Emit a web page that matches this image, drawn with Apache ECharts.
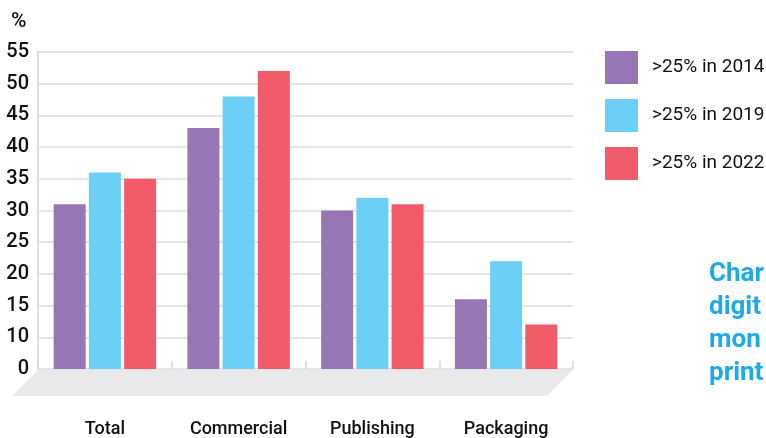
<!DOCTYPE html>
<html>
<head>
<meta charset="utf-8">
<style>
  html, body { margin: 0; padding: 0; background: #ffffff; }
  #chart { width: 766px; height: 438px; }
</style>
<script src="https://cdn.jsdelivr.net/npm/echarts@6/dist/echarts.min.js"></script>
</head>
<body>
<div id="chart"></div>
<script>
// Share of companies with more than 25% of output, by segment
const categories = ['Total', 'Commercial', 'Publishing', 'Packaging'];
const seriesNames = ['>25% in 2014', '>25% in 2019', '>25% in 2022'];
const values2014 = [31, 43, 30, 16];
const values2019 = [36, 48, 32, 22];
const values2022 = [35, 52, 31, 12];
const colors = ['#9676b4', '#6ccff5', '#f15b67'];

// The value axis starts at 5; its lowest tick is printed as "0"
const axisMin = 5;
const axisMax = 55;
const axisStep = 5;
const unitLabel = '%';
const sideNote = ['Char', 'digit', 'mon', 'print'];

const FONT = 'Roboto, "Noto Sans", sans-serif';
const W = 766, H = 438;
const GRID = { left: 38, right: 193, top: 52, bottom: 68 };

const chart = echarts.init(document.getElementById('chart'), null, { renderer: 'canvas' });

// Grey floor slab under the plot, slanting to the lower left
const x0 = GRID.left, x1 = W - GRID.right, yb = H - GRID.bottom, depth = 26;
const floor = {
  type: 'polygon',
  z: 0,
  silent: true,
  shape: { points: [[x0, yb], [x1, yb], [x1 - depth, yb + depth], [x0 - depth, yb + depth]] },
  style: { fill: '#e9e9eb' }
};

const unitText = {
  type: 'text',
  left: 11,
  top: 11,
  style: { text: unitLabel, fill: '#111', font: '500 21px ' + FONT }
};

const noteLines = sideNote.map((t, i) => ({
  type: 'text',
  left: 709,
  top: 261 + i * 33,
  style: { text: t, fill: '#1eaae7', font: 'bold 26px ' + FONT }
}));

const data = [values2014, values2019, values2022];

chart.setOption({
  animation: false,
  backgroundColor: '#ffffff',
  grid: GRID,
  legend: {
    orient: 'vertical',
    left: 605,
    top: 51,
    padding: 0,
    itemWidth: 33,
    itemHeight: 33,
    itemGap: 15,
    icon: 'rect',
    data: seriesNames,
    textStyle: { fontFamily: FONT, fontSize: 19, color: '#111', padding: [0, 0, 0, 9] }
  },
  xAxis: {
    type: 'category',
    data: categories,
    axisLine: { show: false },
    axisTick: { show: true, interval: 0, inside: true, length: 8, lineStyle: { color: '#d6d6d6', width: 1.5 } },
    axisLabel: { interval: 0, margin: 51, fontFamily: FONT, fontSize: 18, fontWeight: 500, color: '#111' },
    z: 3
  },
  yAxis: {
    type: 'value',
    min: axisMin,
    max: axisMax,
    interval: axisStep,
    axisLine: { show: true, lineStyle: { color: '#dedede', width: 2 } },
    axisTick: { show: false },
    splitLine: { lineStyle: { color: '#dcdcdc', width: 1.5 } },
    axisLabel: {
      margin: 9,
      fontFamily: FONT,
      fontSize: 20,
      fontWeight: 500,
      color: '#111',
      formatter: v => (v === axisMin ? '0' : String(v))
    }
  },
  series: seriesNames.map((name, i) => ({
    name,
    type: 'bar',
    data: data[i],
    barWidth: 32,
    barGap: '10%',
    itemStyle: { color: colors[i] },
    z: 2
  })),
  graphic: [floor, unitText].concat(noteLines)
});
</script>
</body>
</html>
